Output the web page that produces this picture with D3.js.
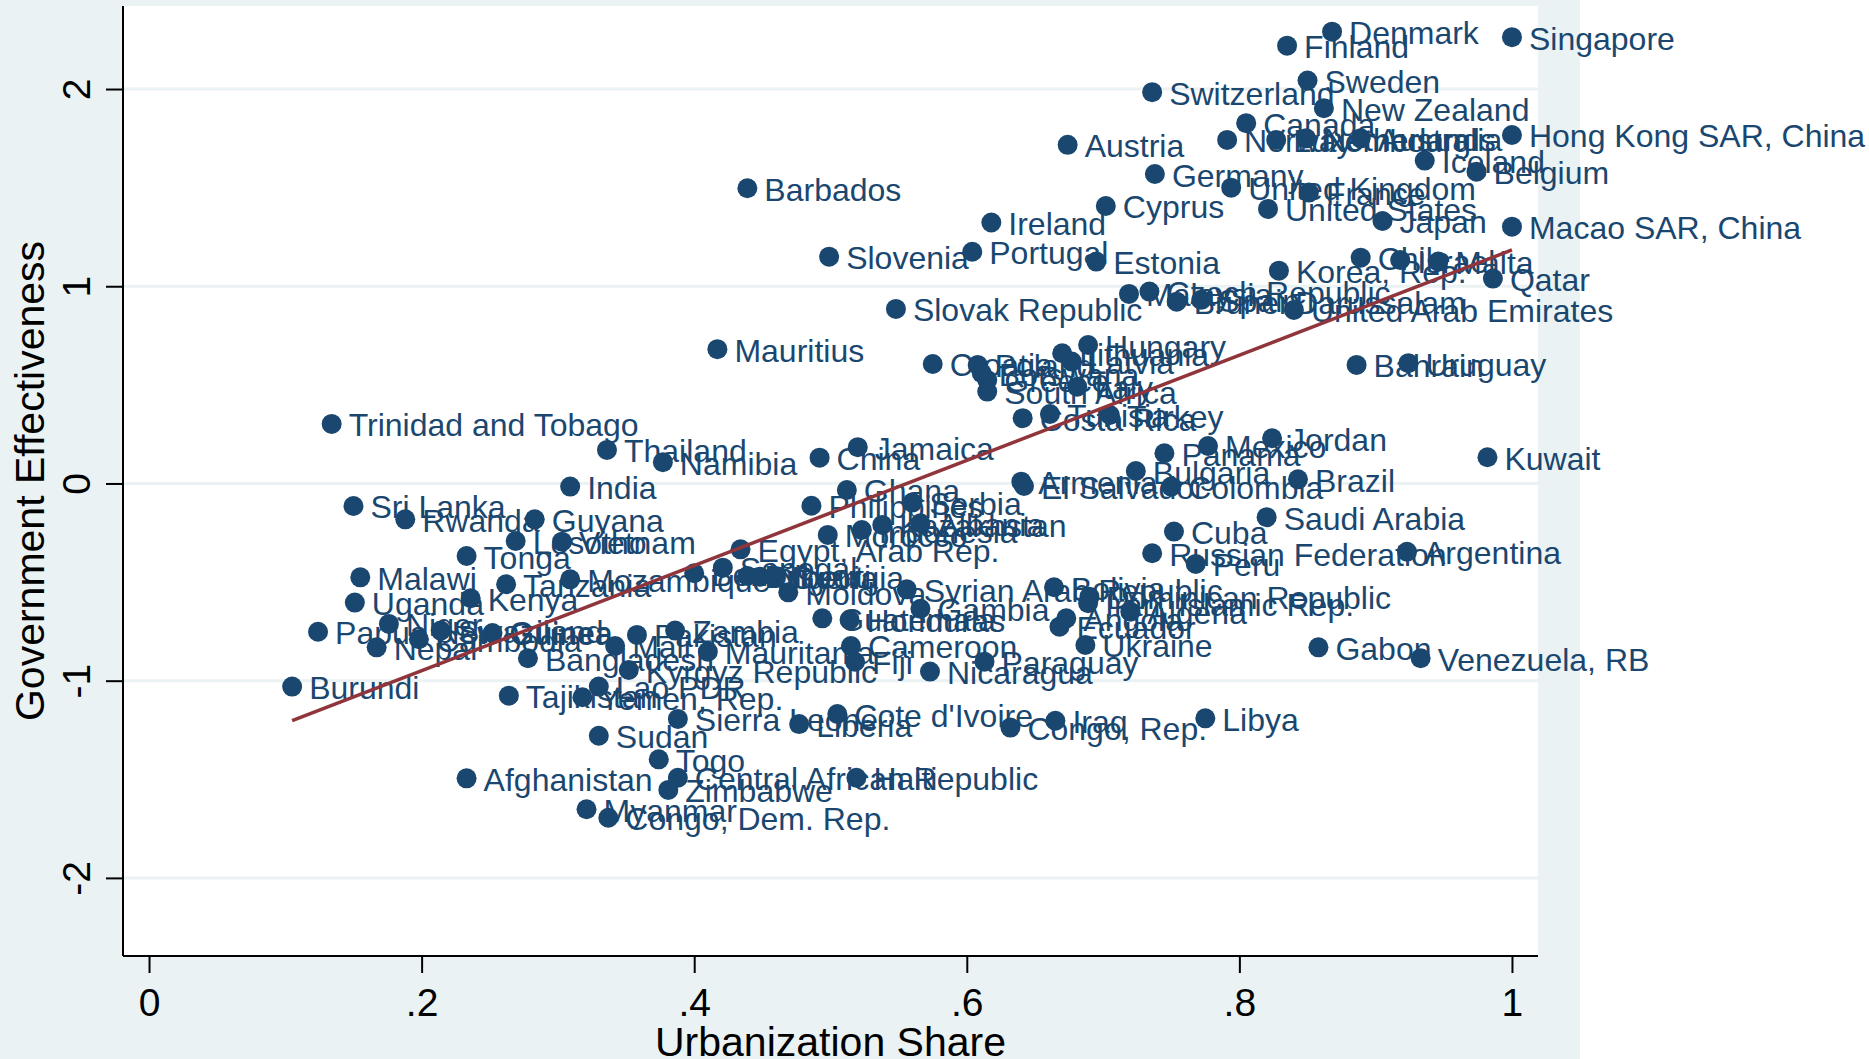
<!DOCTYPE html>
<html lang="en">
<head>
<meta charset="UTF-8">
<title>Government Effectiveness and Urbanization</title>
<script src="https://cdn.jsdelivr.net/npm/d3@7"></script>
<style>
  body { margin: 0; background: #fff; }
  svg { display: block; font-family: "Liberation Sans", Arial, Helvetica, sans-serif; }
</style>
</head>
<body>
<div id="chart"></div>
<script>
// data
var countries = [
  "Denmark", "Finland", "Singapore", "Switzerland", "Sweden", "New Zealand", "Canada",
  "Norway", "Luxembourg", "Netherlands", "Australia", "Hong Kong SAR, China", "Austria",
  "Iceland", "Belgium", "Germany", "United Kingdom", "France", "Barbados", "Cyprus",
  "United States", "Japan", "Ireland", "Macao SAR, China", "Slovenia", "Portugal", "Estonia",
  "Chile", "Israel", "Malta", "Korea, Rep.", "Qatar", "Malaysia", "Czech Republic",
  "Brunei Darussalam", "Spain", "United Arab Emirates", "Slovak Republic", "Mauritius",
  "Hungary", "Lithuania", "Croatia", "Latvia", "Poland", "Botswana", "Greece", "Italy",
  "South Africa", "Bahrain", "Uruguay", "Costa Rica", "Tunisia", "Turkey",
  "Trinidad and Tobago", "Thailand", "Namibia", "China", "Jamaica", "Jordan", "Mexico",
  "Panama", "Kuwait", "Bulgaria", "Brazil", "India", "Armenia", "El Salvador", "Colombia",
  "Ghana", "Sri Lanka", "Rwanda", "Guyana", "Philippines", "Serbia", "Saudi Arabia",
  "Lesotho", "Vietnam", "Morocco", "Indonesia", "Kazakhstan", "Albania", "Cuba", "Tonga",
  "Egypt, Arab Rep.", "Russian Federation", "Argentina", "Peru", "Malawi", "Tanzania",
  "Mozambique", "Benin", "Senegal", "Djibouti", "Nigeria", "Georgia", "Moldova",
  "Syrian Arab Republic", "Bolivia", "Dominican Republic", "Iran, Islamic Rep.", "Uganda",
  "Kenya", "Gambia", "Algeria", "Ecuador", "Angola", "Guatemala", "Honduras",
  "Papua New Guinea", "Niger", "Nepal", "Cambodia", "Swaziland", "Guinea", "Mali",
  "Pakistan", "Zambia", "Bangladesh", "Mauritania", "Cameroon", "Kyrgyz Republic", "Fiji",
  "Nicaragua", "Paraguay", "Ukraine", "Gabon", "Venezuela, RB", "Burundi", "Lao PDR",
  "Tajikistan", "Yemen, Rep.", "Sierra Leone", "Liberia", "Cote d'Ivoire", "Congo, Rep.",
  "Iraq", "Libya", "Sudan", "Togo", "Afghanistan", "Central African Republic", "Haiti",
  "Zimbabwe", "Myanmar", "Congo, Dem. Rep."
];

var urban = [
  0.868, 0.835, 1.000, 0.736, 0.850, 0.862, 0.805,
  0.791, 0.827, 0.849, 0.889, 1.000, 0.674,
  0.936, 0.974, 0.738, 0.794, 0.851, 0.439, 0.702,
  0.821, 0.905, 0.618, 1.000, 0.499, 0.604, 0.695,
  0.889, 0.918, 0.946, 0.829, 0.986, 0.719, 0.734,
  0.754, 0.772, 0.840, 0.548, 0.417,
  0.689, 0.670, 0.575, 0.677, 0.608, 0.611, 0.615, 0.681,
  0.615, 0.886, 0.924, 0.641, 0.661, 0.705,
  0.134, 0.336, 0.377, 0.492, 0.520, 0.824, 0.777,
  0.745, 0.982, 0.724, 0.843, 0.309, 0.640, 0.642, 0.750,
  0.512, 0.150, 0.188, 0.283, 0.486, 0.560, 0.820,
  0.269, 0.303, 0.498, 0.523, 0.538, 0.566, 0.752, 0.233,
  0.434, 0.736, 0.923, 0.768, 0.155, 0.262,
  0.309, 0.400, 0.421, 0.439, 0.448, 0.458, 0.469,
  0.556, 0.664, 0.690, 0.689, 0.151,
  0.236, 0.566, 0.720, 0.668, 0.673, 0.494, 0.514,
  0.124, 0.176, 0.167, 0.198, 0.214, 0.252, 0.342,
  0.358, 0.386, 0.278, 0.410, 0.515, 0.352, 0.518,
  0.573, 0.613, 0.687, 0.858, 0.933, 0.105, 0.330,
  0.264, 0.318, 0.388, 0.477, 0.505, 0.632,
  0.665, 0.775, 0.330, 0.374, 0.233, 0.388, 0.519,
  0.381, 0.321, 0.337
];

var govEff = [
  2.291, 2.220, 2.263, 1.984, 2.043, 1.903, 1.827,
  1.742, 1.742, 1.750, 1.750, 1.767, 1.717,
  1.637, 1.581, 1.569, 1.500, 1.475, 1.497, 1.407,
  1.392, 1.331, 1.323, 1.302, 1.150, 1.175, 1.125,
  1.145, 1.133, 1.125, 1.079, 1.039, 0.961, 0.973,
  0.922, 0.931, 0.880, 0.885, 0.681,
  0.702, 0.660, 0.606, 0.618, 0.601, 0.559, 0.525, 0.491,
  0.466, 0.601, 0.610, 0.331, 0.352, 0.347,
  0.302, 0.170, 0.108, 0.131, 0.184, 0.229, 0.190,
  0.153, 0.133, 0.063, 0.021, -0.016, 0.009, -0.013, -0.016,
  -0.033, -0.114, -0.182, -0.182, -0.113, -0.097, -0.171,
  -0.292, -0.295, -0.261, -0.236, -0.210, -0.202, -0.244, -0.368,
  -0.334, -0.354, -0.346, -0.408, -0.476, -0.511,
  -0.486, -0.455, -0.427, -0.469, -0.473, -0.473, -0.552,
  -0.537, -0.526, -0.574, -0.607, -0.604,
  -0.582, -0.635, -0.650, -0.726, -0.684, -0.684, -0.692,
  -0.752, -0.712, -0.831, -0.790, -0.746, -0.758, -0.824,
  -0.768, -0.746, -0.886, -0.853, -0.824, -0.946, -0.904,
  -0.954, -0.904, -0.819, -0.831, -0.886, -1.030, -1.030,
  -1.076, -1.084, -1.194, -1.220, -1.169, -1.238,
  -1.203, -1.191, -1.279, -1.399, -1.495, -1.492, -1.492,
  -1.554, -1.652, -1.695
];

var xTicks = [0, 0.2, 0.4, 0.6, 0.8, 1];
var yTicks = [-2, -1, 0, 1, 2];

// linear fit
var fitIntercept = -1.483;
var fitSlope = 2.667;

var width = 1869,
    height = 1059;

var plot = { left: 123, right: 1538, top: 6, bottom: 956 };

var navy = "#1a476f",
    maroon = "#90353b",
    panel = "#eaf2f3";

var svg = d3.select("#chart")
            .append("svg")
            .attr("width", width)
            .attr("height", height);

// outer graph region (Stata style)
svg.append("rect")
   .attr("x", 0).attr("y", 0)
   .attr("width", 1580).attr("height", height)
   .attr("fill", panel);

svg.append("rect")
   .attr("x", plot.left).attr("y", plot.top)
   .attr("width", plot.right - plot.left)
   .attr("height", plot.bottom - plot.top)
   .attr("fill", "#fff");

var x = d3.scaleLinear()
          .domain([-0.0191, 1.0191])
          .range([plot.left, plot.right]);

var y = d3.scaleLinear()
          .domain([-2.396, 2.421])
          .range([plot.bottom, plot.top]);

// horizontal grid
svg.append("g")
   .selectAll("line")
   .data(yTicks)
   .enter().append("line")
   .attr("x1", plot.left).attr("x2", plot.right)
   .attr("y1", function(d) { return y(d); })
   .attr("y2", function(d) { return y(d); })
   .attr("stroke", panel)
   .attr("stroke-width", 3);

function fmtX(d) {
    if (d === 0) return "0";
    if (d === 1) return "1";
    return d3.format(".1f")(d).replace("0.", ".");
}

// plain hyphen for negatives, like the original
function fmtY(d) { return String(d); }

var xAxis = svg.append("g")
               .attr("transform", "translate(0," + plot.bottom + ")")
               .call(d3.axisBottom(x).tickValues(xTicks).tickFormat(fmtX).tickSize(17).tickPadding(0));

var yAxis = svg.append("g")
               .attr("transform", "translate(" + plot.left + ",0)")
               .call(d3.axisLeft(y).tickValues(yTicks).tickFormat(fmtY).tickSize(17).tickPadding(0));

[xAxis, yAxis].forEach(function(a) {
    a.select(".domain").attr("stroke", "#000").attr("stroke-width", 2);
    a.selectAll(".tick line").attr("stroke", "#000").attr("stroke-width", 2);
    a.selectAll("text").attr("fill", "#000").style("font-size", "39px")
     .style("font-family", "'Liberation Sans', Arial, sans-serif");
});

// d3 domain path has outer ticks; redraw clean axis lines
xAxis.select(".domain").attr("d", "M" + plot.left + ",0H" + plot.right);
yAxis.select(".domain").attr("d", "M0," + plot.top + "V" + plot.bottom);

xAxis.selectAll("text")
     .attr("y", 60)
     .attr("dy", 0)
     .attr("text-anchor", "middle");

yAxis.selectAll("text")
     .attr("x", null)
     .attr("dy", 0)
     .attr("text-anchor", "middle")
     .attr("transform", "translate(-33,0) rotate(-90)");

// axis titles
svg.append("text")
   .attr("x", (plot.left + plot.right) / 2)
   .attr("y", 1056)
   .attr("text-anchor", "middle")
   .style("font-size", "41px")
   .attr("fill", "#000")
   .text("Urbanization Share");

svg.append("text")
   .attr("transform", "translate(44," + (plot.top + plot.bottom) / 2 + ") rotate(-90)")
   .attr("text-anchor", "middle")
   .style("font-size", "41px")
   .attr("fill", "#000")
   .text("Government Effectiveness");

var points = countries.map(function(name, i) {
    return { name: name, u: urban[i], g: govEff[i] };
});

var pts = svg.append("g")
             .selectAll("g")
             .data(points)
             .enter().append("g")
             .attr("transform", function(d) { return "translate(" + x(d.u) + "," + y(d.g) + ")"; });

pts.append("circle")
   .attr("r", 10)
   .attr("fill", navy);

pts.append("text")
   .attr("x", 17)
   .attr("y", 12.5)
   .attr("fill", navy)
   .style("font-size", "32px")
   .text(function(d) { return d.name; });

// fitted values line over the observed range
var xr = d3.extent(urban);
svg.append("line")
   .attr("x1", x(xr[0])).attr("y1", y(fitIntercept + fitSlope * xr[0]))
   .attr("x2", x(xr[1])).attr("y2", y(fitIntercept + fitSlope * xr[1]))
   .attr("stroke", maroon)
   .attr("stroke-width", 3.5);
</script>
</body>
</html>
